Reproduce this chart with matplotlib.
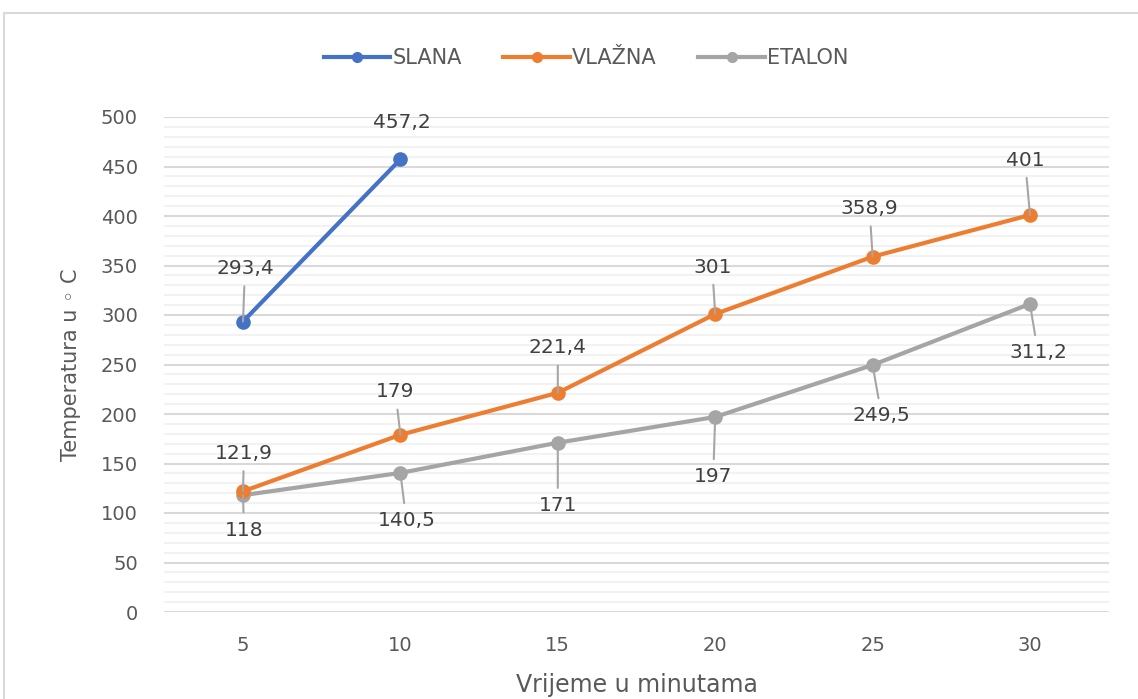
import matplotlib.pyplot as plt
from matplotlib.patches import Rectangle
from matplotlib.ticker import MultipleLocator

# minutes on the x axis, temperatures in deg C
minutes = [5, 10, 15, 20, 25, 30]
slana = [293.4, 457.2]
vlazna = [121.9, 179, 221.4, 301, 358.9, 401]
etalon = [118, 140.5, 171, 197, 249.5, 311.2]

labels_slana = ['293,4', '457,2']
labels_vlazna = ['121,9', '179', '221,4', '301', '358,9', '401']
labels_etalon = ['118', '140,5', '171', '197', '249,5', '311,2']

BLUE = '#4472C4'
ORANGE = '#ED7D31'
GRAY = '#A5A5A5'
TXT = '#595959'
LBL = '#404040'

fig = plt.figure(figsize=(11.38, 6.99), dpi=100)
ax = fig.add_axes([164.3 / 1138, 1 - 612 / 699, (1108.7 - 164.3) / 1138, (612 - 117) / 699])

# outer chart frame
fig.patches.append(Rectangle((4 / 1138, -0.1), 1.2, 1 - 13 / 699 + 0.1,
                             transform=fig.transFigure, fill=False,
                             edgecolor='#D9D9D9', linewidth=1.5))

xs = list(range(len(minutes)))
ax.plot(xs[:len(slana)], slana, color=BLUE, lw=3, marker='o', ms=9.5, label='SLANA', zorder=4)
ax.plot(xs, vlazna, color=ORANGE, lw=3, marker='o', ms=9.5, label='VLAŽNA', zorder=4)
ax.plot(xs, etalon, color=GRAY, lw=3, marker='o', ms=9.5, label='ETALON', zorder=3)

ax.set_xlim(-0.5, len(minutes) - 0.5)
ax.set_ylim(0, 500)
ax.set_xticks(xs)
ax.set_xticklabels([str(m) for m in minutes])
ax.yaxis.set_major_locator(MultipleLocator(50))
ax.yaxis.set_minor_locator(MultipleLocator(10))
ax.grid(axis='y', which='major', color='#D9D9D9', lw=1.5, zorder=0)
ax.grid(axis='y', which='minor', color='#F2F2F2', lw=1.5, zorder=0)
ax.set_axisbelow(True)
for s in ax.spines.values():
    s.set_visible(False)
ax.tick_params(axis='both', which='both', length=0, labelsize=14, labelcolor=TXT)
ax.tick_params(axis='y', pad=19)
ax.tick_params(axis='x', pad=17)

ax.set_xlabel('Vrijeme u minutama', fontsize=17, color=TXT, labelpad=13)
ax.set_ylabel('Temperatura u ◦ C', fontsize=15, color=TXT, labelpad=14)


def put_labels(vals, texts, offsets, leaders):
    for i, (v, t, off, lead) in enumerate(zip(vals, texts, offsets, leaders)):
        arrow = dict(arrowstyle='-', color='#A6A6A6', lw=1.5, shrinkA=4, shrinkB=0) if lead else None
        ax.annotate(t, (xs[i], v), xytext=off, textcoords='offset pixels',
                    ha='center', va='center', fontsize=14.5, color=LBL,
                    arrowprops=arrow, zorder=6)


put_labels(slana, labels_slana, [(2, 53), (1, 37)], [True, False])
put_labels(vlazna, labels_vlazna,
           [(1, 38), (-5, 43), (0, 45), (-3, 47), (-3, 48), (-5, 55)],
           [True] * 6)
put_labels(etalon, labels_etalon,
           [(1, -35), (6, -48), (0, -63), (-2, -60), (9, -51), (8, -49)],
           [True] * 6)

leg = ax.legend(loc='center', bbox_to_anchor=(586 / 1138, 1 - 58 / 699), bbox_transform=fig.transFigure,
                ncol=3, frameon=False, fontsize=15, handlelength=3.2,
                handletextpad=0.1, columnspacing=2.0)
for t in leg.get_texts():
    t.set_color(TXT)
for h in leg.legend_handles:
    h.set_markersize(7)

fig.savefig('out.png', dpi=100)
